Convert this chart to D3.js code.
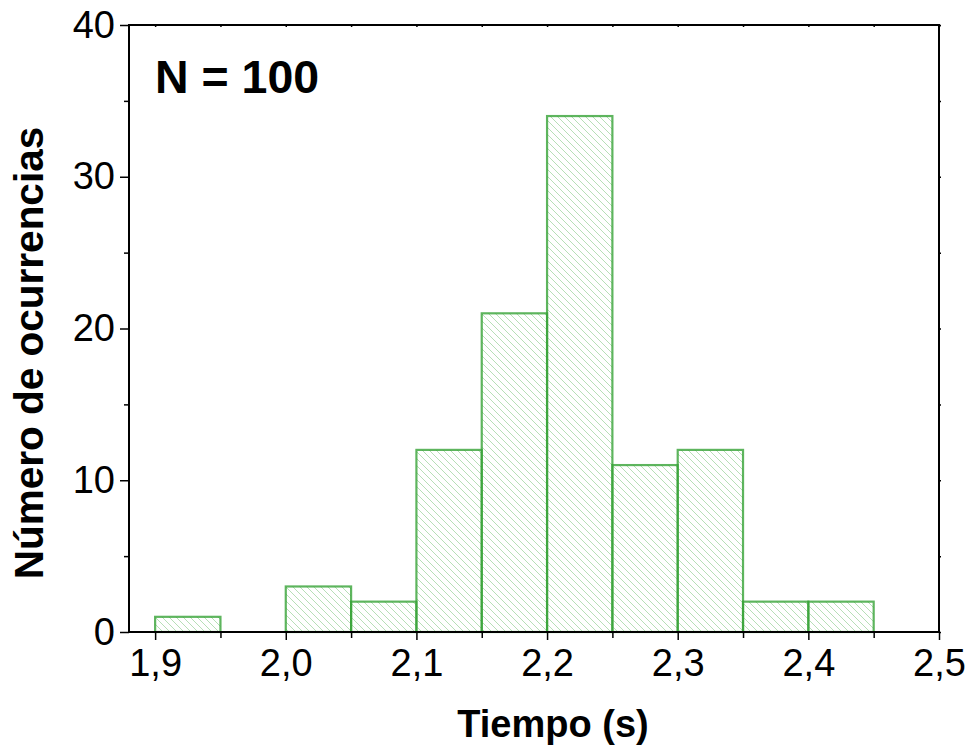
<!DOCTYPE html>
<html lang="es">
<head>
<meta charset="UTF-8">
<title>Histograma de tiempos</title>
<script src="https://d3js.org/d3.v7.min.js"></script>
<style>
    body { margin: 0; background: #fff; }
    svg { display: block; font-family: 'Liberation Sans', Arial, sans-serif; }
    .tick-label { font-size: 38px; fill: #000; }
    .axis-title { font-size: 38px; font-weight: bold; fill: #000; }
</style>
</head>
<body>
<svg width="967" height="748"></svg>
<script>
// Data
const binStarts = [1.90, 1.95, 2.00, 2.05, 2.10, 2.15, 2.20, 2.25, 2.30, 2.35, 2.40];
const counts    = [1, 0, 3, 2, 12, 21, 34, 11, 12, 2, 2];
const binWidth = 0.05;
const xTicks = [1.9, 2.0, 2.1, 2.2, 2.3, 2.4, 2.5];
const xMinor = [1.95, 2.05, 2.15, 2.25, 2.35, 2.45];
const yTicks = [0, 10, 20, 30, 40];
const yMinor = [5, 15, 25, 35];

const svg = d3.select("svg");
const plotL = 129, plotR = 939, plotT = 25, plotB = 632;

const x = d3.scaleLinear().domain([1.88, 2.5]).range([plotL, plotR]);
const y = d3.scaleLinear().domain([0, 40]).range([plotB, plotT]);

// hatch pattern
const defs = svg.append("defs");
const pat = defs.append("pattern")
    .attr("id", "hatch")
    .attr("patternUnits", "userSpaceOnUse")
    .attr("width", 7).attr("height", 7);
pat.append("path")
    .attr("d", "M0,0 L7,7 M-1,6 L1,8 M6,-1 L8,1")
    .attr("stroke", "#6fbf6f")
    .attr("stroke-opacity", 0.5)
    .attr("stroke-width", 1);

const bins = binStarts.map((s, i) => ({ x0: s, x1: s + binWidth, n: counts[i] }))
    .filter(d => d.n > 0);

svg.append("g")
    .selectAll("rect")
    .data(bins)
    .join("rect")
    .attr("x", d => x(d.x0))
    .attr("y", d => y(d.n))
    .attr("width", d => x(d.x1) - x(d.x0))
    .attr("height", d => y(0) - y(d.n))
    .attr("fill", "url(#hatch)")
    .attr("stroke", "#36a336")
    .attr("stroke-opacity", 0.8)
    .attr("stroke-width", 2.2);

// axes
const axisStyle = g => {
    g.select(".domain").remove();
    g.selectAll("line").attr("stroke", "#000").attr("stroke-width", 1.5);
};

// bottom
svg.append("g")
    .attr("transform", `translate(0,${plotB})`)
    .call(d3.axisBottom(x).tickValues(xMinor).tickSize(6).tickFormat(""))
    .call(axisStyle);
svg.append("g")
    .attr("transform", `translate(0,${plotB})`)
    .call(d3.axisBottom(x).tickValues(xTicks).tickSize(8).tickPadding(9)
        .tickFormat(d => d3.format(".1f")(d).replace(".", ",")))
    .call(axisStyle)
    .call(g => g.selectAll("text").attr("class", "tick-label").attr("font-size", null).attr("font-family", null));

// left
svg.append("g")
    .attr("transform", `translate(${plotL},0)`)
    .call(d3.axisLeft(y).tickValues(yMinor).tickSize(5).tickFormat(""))
    .call(axisStyle);
svg.append("g")
    .attr("transform", `translate(${plotL},0)`)
    .call(d3.axisLeft(y).tickValues(yTicks).tickSize(9).tickPadding(5))
    .call(axisStyle)
    .call(g => g.selectAll("text").attr("class", "tick-label").attr("font-size", null).attr("font-family", null));

// top and right (tiny ticks)
svg.append("g")
    .attr("transform", `translate(0,${plotT})`)
    .call(d3.axisBottom(x).tickValues(xTicks.concat(xMinor)).tickSize(2).tickFormat(""))
    .call(axisStyle);
svg.append("g")
    .attr("transform", `translate(${plotR},0)`)
    .call(d3.axisRight(y).tickValues(yTicks.concat(yMinor)).tickSize(2).tickFormat(""))
    .call(axisStyle);

// frame
svg.append("rect")
    .attr("x", plotL).attr("y", plotT)
    .attr("width", plotR - plotL).attr("height", plotB - plotT)
    .attr("fill", "none").attr("stroke", "#000").attr("stroke-width", 2);

// titles
svg.append("text")
    .attr("class", "axis-title")
    .attr("x", 553).attr("y", 737)
    .attr("text-anchor", "middle")
    .text("Tiempo (s)");

svg.append("text")
    .attr("class", "axis-title")
    .attr("transform", "translate(43,353) rotate(-90)")
    .attr("text-anchor", "middle")
    .style("font-size", "40.5px")
    .text("Número de ocurrencias");

svg.append("text")
    .attr("x", 155).attr("y", 93)
    .style("font-size", "46.5px").style("font-weight", "bold")
    .text("N = 100");
</script>
</body>
</html>
